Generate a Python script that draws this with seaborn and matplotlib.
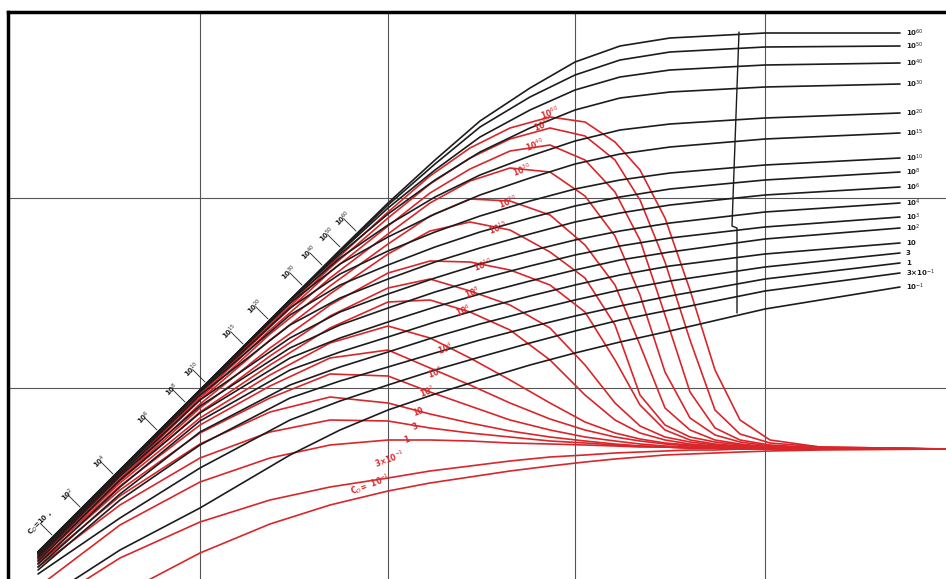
import numpy as np
import pandas as pd
import matplotlib.pyplot as plt
import seaborn as sns

black_x = [38, 120, 200, 290, 340, 388, 435, 480, 530, 575, 620, 670, 765, 900]
b_1e60 = [552, 470, 390, 300, 250, 203, 160, 121, 88, 62, 46, 38, 33, 33]
b_1e50 = [552, 470, 390, 300, 251, 205, 164, 127, 97, 75, 60, 52, 47, 46]
b_1e40 = [552, 470, 390, 300, 252, 208, 170, 137, 110, 90, 77, 70, 65, 63]
b_1e30 = [552, 470, 390, 300, 254, 214, 180, 152, 128, 110, 98, 92, 87, 84]
b_1e20 = [552, 470, 390, 301, 258, 225, 197, 175, 156, 141, 130, 124, 118, 113]
b_1e15 = [552, 470, 390, 303, 264, 237, 214, 195, 178, 164, 154, 147, 139, 133]
b_1e10 = [552, 470, 391, 308, 274, 251, 232, 216, 201, 189, 180, 173, 165, 158]
b_1e8 = [553, 471, 392, 315, 285, 265, 247, 232, 218, 206, 197, 189, 180, 172]
b_1e6 = [554, 472, 395, 325, 298, 279, 262, 248, 234, 222, 213, 205, 195, 187]
b_1e4 = [556, 474, 400, 338, 312, 294, 278, 264, 251, 240, 231, 223, 212, 203]
b_1e3 = [558, 476, 406, 348, 325, 308, 292, 279, 266, 255, 246, 238, 227, 217]
b_1e2 = [561, 480, 413, 358, 338, 322, 307, 294, 281, 270, 260, 252, 239, 228]
b_10 = [564, 487, 421, 370, 352, 337, 322, 309, 296, 285, 275, 266, 254, 243]
b_3 = [567, 494, 432, 385, 367, 352, 337, 324, 311, 300, 290, 281, 267, 253]
b_1 = [570, 500, 445, 398, 381, 367, 353, 340, 327, 316, 306, 296, 279, 263]
b_3em1 = [574, 518, 468, 420, 401, 385, 370, 357, 343, 331, 320, 310, 291, 273]
b_1em1 = [603, 550, 508, 455, 430, 410, 394, 380, 365, 353, 342, 331, 309, 287]

red_x = [38, 120, 200, 270, 330, 388, 430, 470, 510, 550, 585, 615, 640, 665, 690, 715, 740, 770, 820, 946]
r_1e60 = [553, 471, 392, 323, 265, 212, 176, 148, 128, 117, 122, 142, 170, 218, 290, 370, 420, 440, 447, 449]
r_1e50 = [553, 472, 393, 325, 268, 218, 184, 158, 139, 128, 136, 160, 200, 262, 340, 410, 434, 443, 447, 449]
r_1e40 = [554, 473, 394, 327, 272, 226, 193, 169, 151, 145, 160, 192, 240, 315, 392, 428, 440, 445, 448, 449]
r_1e30 = [554, 474, 396, 330, 278, 234, 203, 181, 168, 172, 196, 236, 295, 372, 418, 435, 442, 446, 448, 449]
r_1e20 = [555, 475, 398, 334, 286, 244, 216, 199, 201, 215, 245, 285, 345, 408, 430, 440, 444, 447, 448, 449]
r_1e15 = [556, 477, 400, 340, 294, 254, 231, 222, 230, 252, 278, 325, 395, 425, 437, 442, 445, 447, 448, 449]
r_1e10 = [557, 479, 404, 348, 305, 273, 261, 262, 270, 285, 312, 360, 405, 430, 440, 444, 446, 447, 448, 449]
r_1e8 = [557, 480, 408, 356, 316, 288, 279, 291, 305, 328, 365, 403, 426, 437, 442, 445, 447, 448, 448, 449]
r_1e6 = [558, 481, 412, 365, 328, 302, 300, 312, 330, 360, 395, 420, 433, 440, 444, 446, 447, 448, 448, 449]
r_1e4 = [559, 483, 418, 375, 343, 326, 338, 358, 380, 403, 422, 433, 439, 443, 445, 447, 448, 448, 449, 449]
r_1e3 = [560, 486, 425, 386, 358, 350, 368, 385, 403, 419, 430, 437, 441, 444, 446, 447, 448, 448, 449, 449]
r_1e2 = [562, 490, 433, 398, 374, 376, 392, 406, 420, 430, 437, 441, 444, 446, 447, 448, 448, 449, 449, 449]
r_10 = [564, 496, 444, 412, 397, 403, 414, 423, 431, 437, 441, 444, 446, 447, 448, 448, 449, 449, 449, 449]
r_3 = [567, 505, 458, 432, 420, 421, 428, 433, 437, 441, 443, 445, 446, 447, 448, 448, 449, 449, 449, 449]
r_1 = [587, 525, 482, 458, 445, 440, 440, 441, 443, 444, 445, 446, 447, 447, 448, 448, 449, 449, 449, 449]
r_3em1 = [610, 558, 522, 500, 487, 478, 471, 466, 461, 457, 455, 453, 452, 451, 450, 450, 449, 449, 449, 449]
r_1em1 = [640, 595, 553, 524, 505, 491, 483, 477, 471, 466, 462, 459, 457, 455, 454, 453, 452, 451, 450, 449]

labels = ['10$^{60}$', '10$^{50}$', '10$^{40}$', '10$^{30}$', '10$^{20}$', '10$^{15}$',
          '10$^{10}$', '10$^{8}$', '10$^{6}$', '10$^{4}$', '10$^{3}$', '10$^{2}$',
          '10', '3', '1', '3×10$^{-1}$', '10$^{-1}$']
black_curves = [b_1e60, b_1e50, b_1e40, b_1e30, b_1e20, b_1e15, b_1e10, b_1e8, b_1e6,
                b_1e4, b_1e3, b_1e2, b_10, b_3, b_1, b_3em1, b_1em1]
red_curves = [r_1e60, r_1e50, r_1e40, r_1e30, r_1e20, r_1e15, r_1e10, r_1e8, r_1e6,
              r_1e4, r_1e3, r_1e2, r_10, r_3, r_1, r_3em1, r_1em1]

# red labels sitting on the red curves
red_lab = labels[:-1] + ['C$_D$=  10$^{-1}$']
red_lx = [550, 543, 535, 522, 508, 498, 483, 472, 463, 445, 435, 427, 418, 415, 407, 390, 370]
red_ly = [113, 125, 145, 170, 202, 228, 265, 292, 310, 348, 372, 392, 412, 427, 440, 459, 484]

# labels along the common rising envelope
env_lab = ['C$_D$=10 ,', '10$^2$', '10$^4$', '10$^6$', '10$^8$', '10$^{10}$', '10$^{15}$',
           '10$^{20}$', '10$^{30}$', '10$^{40}$', '10$^{50}$', '10$^{60}$']
env_x = [52, 80, 113, 157, 185, 205, 243, 268, 302, 322, 340, 356]
env_y = [535, 507, 474, 430, 402, 382, 344, 319, 285, 265, 247, 231]

# hand-drawn locus line on the right
locus_x = [739, 732, 737, 737]
locus_y = [32, 226, 228, 313]

# --- build long-form table ---
frames = []
for name, ys in zip(labels, black_curves):
    frames.append(pd.DataFrame({'x': black_x, 'y': ys, 'curve': 'b' + name, 'family': 'black'}))
for name, ys in zip(labels, red_curves):
    frames.append(pd.DataFrame({'x': red_x, 'y': ys, 'curve': 'r' + name, 'family': 'red'}))
df = pd.concat(frames, ignore_index=True)

RED = '#d8262a'
BLACK = '#1c1c1c'

sns.set_style('white')
fig = plt.figure(figsize=(9.46, 5.79), dpi=100)
ax = fig.add_axes([8 / 946, 0, 938 / 946, 567 / 579])

sns.lineplot(data=df[df.family == 'red'], x='x', y='y', units='curve', estimator=None,
             sort=False, color=RED, lw=1.2, ax=ax, legend=False, zorder=2)
sns.lineplot(data=df[df.family == 'black'], x='x', y='y', units='curve', estimator=None,
             sort=False, color=BLACK, lw=1.2, ax=ax, legend=False, zorder=3)
sns.lineplot(x=locus_x, y=locus_y, sort=False, estimator=None, color=BLACK, lw=1.0, ax=ax, zorder=3)

# right-hand labels of the black family
for name, ys in zip(labels, black_curves):
    ax.text(black_x[-1] + 6, ys[-1], name, fontsize=5, color=BLACK, fontweight='bold',
            ha='left', va='center', zorder=4)

# red labels
for name, x, y in zip(red_lab, red_lx, red_ly):
    ax.text(x, y, name, fontsize=5.5, color=RED, fontweight='bold', ha='center', va='center',
            rotation=20, zorder=4)

# envelope labels with small ticks
for name, x, y in zip(env_lab, env_x, env_y):
    ax.annotate(name, xy=(x, y), xytext=(-6, 6), textcoords='offset points',
                fontsize=5, fontweight='bold', color=BLACK, rotation=45,
                rotation_mode='anchor', ha='center', va='bottom',
                arrowprops=dict(arrowstyle='-', lw=0.6, color=BLACK, shrinkA=0, shrinkB=0),
                zorder=4)

ax.set_xlim(8, 946)
ax.set_ylim(579, 12)
ax.set_xticks([200, 388, 575, 765])
ax.set_yticks([198, 388])
ax.grid(True, color='#555555', lw=0.8)
ax.set_axisbelow(True)
ax.tick_params(length=0, labelbottom=False, labelleft=False)
ax.set_xlabel('')
ax.set_ylabel('')
for side in ['right', 'bottom']:
    ax.spines[side].set_visible(False)
for side in ['left', 'top']:
    ax.spines[side].set_linewidth(2.5)
    ax.spines[side].set_color('black')

fig.savefig('out.png', dpi=100)
